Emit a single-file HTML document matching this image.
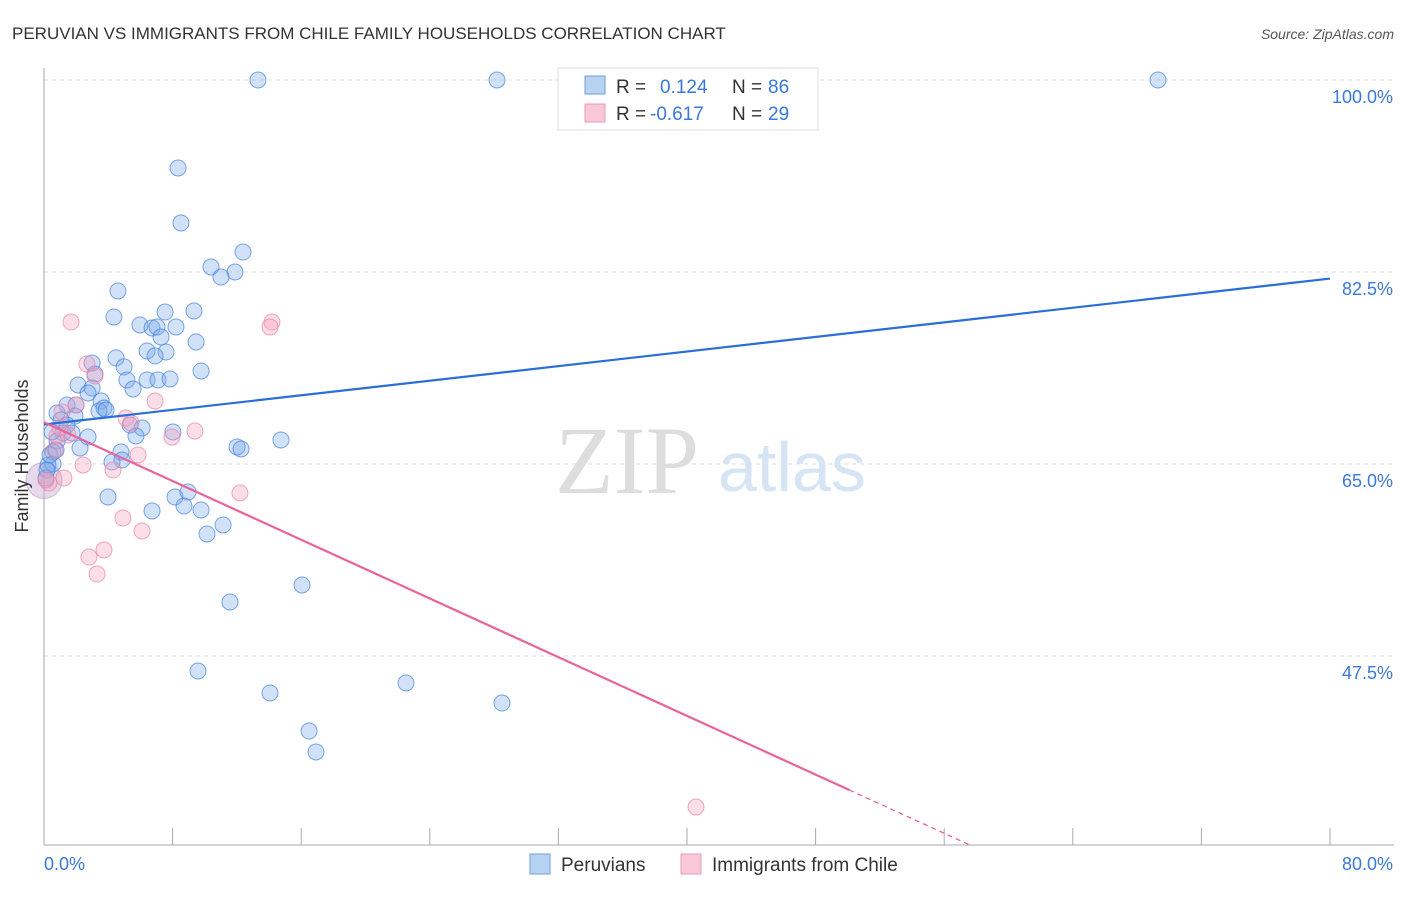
<!DOCTYPE html>
<html><head><meta charset="utf-8"><style>
body{margin:0;background:#fff;font-family:"Liberation Sans",sans-serif;}
</style></head><body>
<svg width="1406" height="892" xmlns="http://www.w3.org/2000/svg">
<text x="12" y="39" font-size="17" fill="#333">PERUVIAN VS IMMIGRANTS FROM CHILE FAMILY HOUSEHOLDS CORRELATION CHART</text>
<text x="1394" y="39" font-size="14" fill="#555" font-style="italic" text-anchor="end">Source: ZipAtlas.com</text>
<g id="grid"></g>
<text x="555" y="493" font-size="96" font-family="Liberation Serif,serif" fill="#ddd">ZIP</text>
<text x="718" y="491" font-size="70" fill="#d6e4f5">atlas</text>
<g id="pts"></g>
<g id="lines"></g>
<text x="28" y="456" font-size="18" fill="#333" text-anchor="middle" transform="rotate(-90 28 456)">Family Households</text>
<text x="44" y="870" font-size="18" fill="#3b78d8">0.0%</text>
<text x="1393" y="870" font-size="18" fill="#3b78d8" text-anchor="end">80.0%</text>
<g>
<rect x="558" y="68" width="260" height="62" fill="#fff" stroke="#ddd"/>
<rect x="585" y="76" width="20" height="18" fill="#b8d2f2" stroke="#6d9fe0"/>
<rect x="585" y="104" width="20" height="18" fill="#f9c8d6" stroke="#eb98b2"/>
<text x="616" y="93" font-size="19" fill="#333">R = </text><text x="660" y="93" font-size="19" fill="#3b78d8">0.124</text>
<text x="732" y="93" font-size="19" fill="#333">N = </text><text x="768" y="93" font-size="19" fill="#3b78d8">86</text>
<text x="616" y="120" font-size="19" fill="#333">R = </text><text x="650" y="120" font-size="19" fill="#3b78d8">-0.617</text>
<text x="732" y="120" font-size="19" fill="#333">N = </text><text x="768" y="120" font-size="19" fill="#3b78d8">29</text>
</g>
<g>
<rect x="530" y="854" width="20" height="20" fill="#b8d2f2" stroke="#6d9fe0"/>
<text x="561" y="871" font-size="19" fill="#333">Peruvians</text>
<rect x="681" y="854" width="20" height="20" fill="#f9c8d6" stroke="#eb98b2"/>
<text x="712" y="871" font-size="19" fill="#333">Immigrants from Chile</text>
</g>
</svg>
<script>
const yTicks=[100,82.5,65,47.5];
const yTickLabels=["100.0%","82.5%","65.0%","47.5%"];
const xTicks=[0,8,16,24,32,40,48,56,64,72,80];
const blueX=[13.31,28.18,69.30,8.34,8.52,12.38,10.39,11.88,11.01,4.60,9.33,7.53,4.35,5.97,6.72,8.21,7.03,7.28,9.46,6.41,7.59,6.91,4.48,2.99,4.98,9.77,3.17,5.16,6.41,7.09,7.84,2.12,5.54,2.99,2.74,3.55,1.43,1.99,3.73,3.42,3.86,0.81,1.93,1.06,1.43,5.35,6.10,8.02,1.18,2.74,5.72,0.81,12.01,12.26,14.74,2.24,4.79,0.56,4.85,4.23,0.56,3.98,8.15,8.96,8.71,9.77,6.72,11.14,10.14,11.57,16.05,9.58,14.06,22.52,28.49,16.49,16.92,0.12,0.25,0.37,0.75,0.50,1.74,0.19];
const blueY=[100,100,100,91.98,86.97,84.32,82.96,82.50,82.04,80.77,78.95,78.85,78.40,77.67,77.40,77.49,77.49,76.58,76.12,75.30,75.21,74.85,74.67,74.21,73.85,73.48,73.20,72.66,72.66,72.66,72.75,72.20,71.84,71.93,71.47,70.74,70.38,70.38,70.10,69.83,69.92,69.65,69.37,69.01,68.55,68.55,68.28,67.92,67.82,67.46,67.55,67.10,66.55,66.37,67.19,66.46,66.09,66.09,65.36,65.18,65.00,61.99,61.99,62.45,61.17,60.81,60.72,59.44,58.62,52.42,53.97,46.13,44.13,45.04,43.21,40.66,38.75,63.72,64.91,65.82,66.27,67.92,67.82,64.45];
const pinkX=[1.68,14.18,14.06,2.67,3.17,1.99,1.12,5.10,5.41,6.91,0.81,1.49,9.39,7.96,5.85,2.43,4.29,1.24,0.31,12.19,4.91,6.10,3.73,2.80,3.30,40.56,0.12,0.68,1.00];
const pinkY=[77.94,77.94,77.49,74.11,73.02,70.38,69.74,69.19,68.74,70.74,67.55,67.64,68.01,67.46,65.82,64.91,64.45,63.72,63.27,62.36,60.08,58.89,57.16,56.52,54.97,33.73,63.54,66.27,68.28];
const blueTrend=[68.6,81.9];
const pinkTrend=[68.8,-0.669];
const NS="http://www.w3.org/2000/svg";
const sx=v=>44+v*16.075, sy=v=>80+(100-v)*10.971;
function mk(tag,attrs,parent){const e=document.createElementNS(NS,tag);for(const k in attrs)e.setAttribute(k,attrs[k]);parent.appendChild(e);return e;}
const grid=document.getElementById('grid');
yTicks.forEach((t,i)=>{
 const l=mk('line',{x1:44,x2:1394,y1:sy(t),y2:sy(t),stroke:'#ddd','stroke-dasharray':'4,4'},grid);
 
 
 const tx=mk('text',{x:1393,y:sy(t)+23,'font-size':18,fill:'#3b78d8','text-anchor':'end'},grid);
 tx.textContent=yTickLabels[i];
 
 
});
const ax=mk('line',{x1:44,x2:44,y1:68,y2:845,stroke:'#aaa'},grid);


const bx=mk('line',{x1:44,x2:1394,y1:845,y2:845,stroke:'#aaa'},grid);


xTicks.forEach(t=>{
 const l=mk('line',{x1:sx(t),x2:sx(t),y1:828,y2:845,stroke:'#aaa'},grid);
 
 
});
const pts=document.getElementById('pts');
const big=mk('circle',{cx:sx(0),cy:sy(63.5),r:18,fill:'rgba(200,170,210,0.45)',stroke:'rgba(180,150,200,0.6)'},pts);


blueX.forEach((x,i)=>{
 const c=mk('circle',{cx:sx(x),cy:sy(blueY[i]),r:8,fill:'rgba(120,170,235,0.35)',stroke:'rgba(70,130,220,0.7)','stroke-width':1},pts);
 
 
});
pinkX.forEach((x,i)=>{
 const c=mk('circle',{cx:sx(x),cy:sy(pinkY[i]),r:8,fill:'rgba(245,160,190,0.35)',stroke:'rgba(235,130,165,0.7)','stroke-width':1},pts);
 
 
});
const lines=document.getElementById('lines');
const bl=mk('line',{x1:sx(0),y1:sy(blueTrend[0]),x2:sx(80),y2:sy(blueTrend[1]),stroke:'#2a6fd6','stroke-width':2.2},lines);


const pe=x=>pinkTrend[0]+pinkTrend[1]*x;
const pl=mk('line',{x1:sx(0),y1:sy(pe(0)),x2:sx(50.1),y2:sy(pe(50.1)),stroke:'#e8649a','stroke-width':2.2},lines);


const xe=(pinkTrend[0]-30.3)/-pinkTrend[1];
const pd=mk('line',{x1:sx(50.1),y1:sy(pe(50.1)),x2:sx(xe),y2:sy(pe(xe)),stroke:'#e8649a','stroke-width':1.3,'stroke-dasharray':'5,4'},lines);


</script>
</body></html>
